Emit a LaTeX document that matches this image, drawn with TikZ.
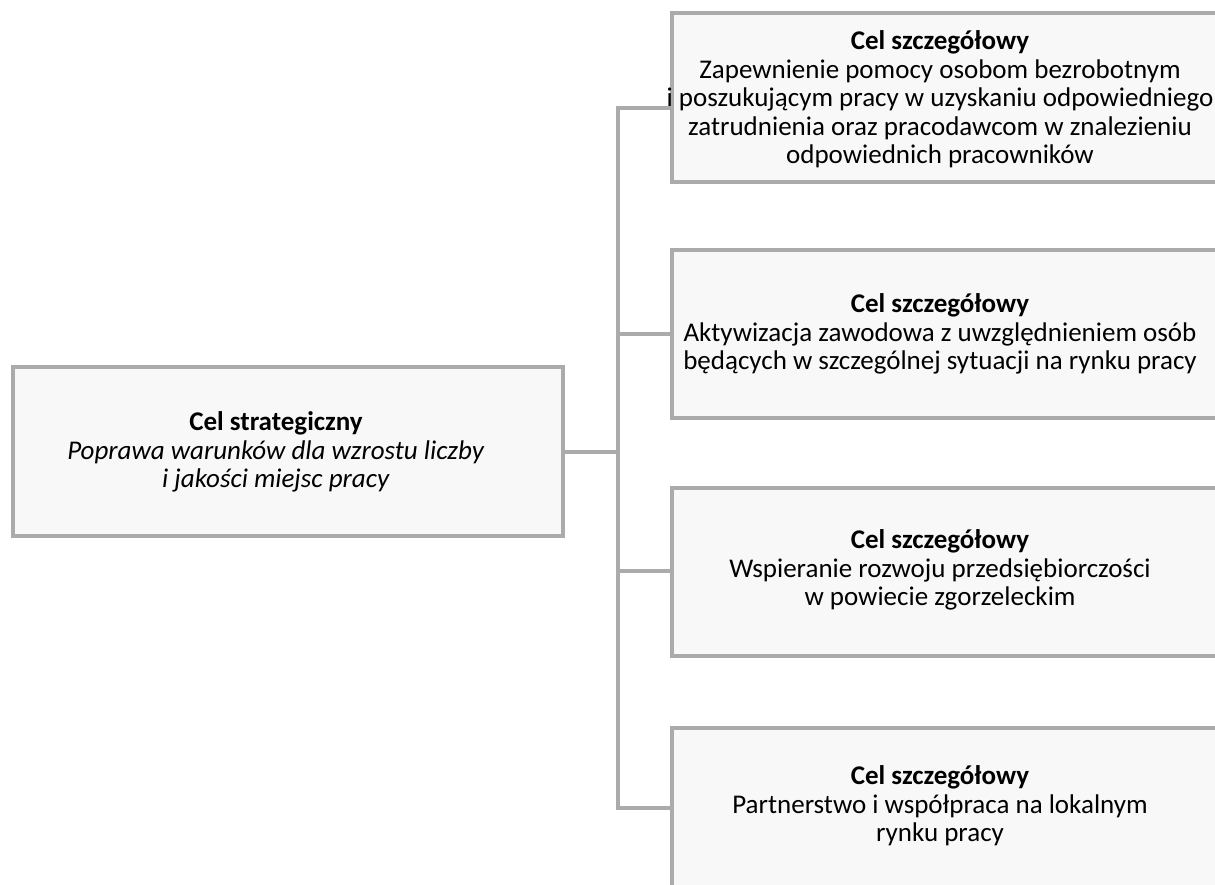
\documentclass[tikz,border=0pt]{standalone}
\usepackage{fontspec}
\setmainfont{Carlito}
\definecolor{boxline}{HTML}{ABABAB}
\definecolor{boxfill}{HTML}{F8F8F8}
\tikzset{
  goalbox/.style={draw=boxline, fill=boxfill, line width=4pt, rectangle, inner sep=0pt},
  goaltext/.style={align=center, inner sep=0pt, font=\fontsize{27}{28.5}\selectfont},
  link/.style={draw=boxline, line width=4pt},
}
\begin{document}
\begin{tikzpicture}[x=1pt, y=-1pt]
\useasboundingbox (0,0) rectangle (1215,884);
\begin{scope}
\clip (0,0) rectangle (1215,884);
% boxes
\node[goalbox, minimum width=550pt, minimum height=169pt] (main) at (288,451.5) {};
\node[goalbox, minimum width=580pt, minimum height=169pt] (b1) at (962,97.5) {};
\node[goalbox, minimum width=580pt, minimum height=168pt] (b2) at (962,334) {};
\node[goalbox, minimum width=580pt, minimum height=168pt] (b3) at (962,572) {};
\node[goalbox, minimum width=580pt, minimum height=170pt] (b4) at (962,813) {};
% texts
\node[goaltext] (tmain) at (276,452) {\textbf{Cel strategiczny}\\ \textit{Poprawa warunków dla wzrostu liczby}\\ \textit{i jakości miejsc pracy}};
\node[goaltext] (t1) at (940,99.5) {\textbf{Cel szczegółowy}\\ Zapewnienie pomocy osobom bezrobotnym\\ i poszukującym pracy w uzyskaniu odpowiedniego\\ zatrudnienia oraz pracodawcom w znalezieniu\\ odpowiednich pracowników};
\node[goaltext] (t2) at (940,334) {\textbf{Cel szczegółowy}\\ Aktywizacja zawodowa z uwzględnieniem osób\\ będących w szczególnej sytuacji na rynku pracy};
\node[goaltext] (t3) at (940,570) {\textbf{Cel szczegółowy}\\ Wspieranie rozwoju przedsiębiorczości\\ w powiecie zgorzeleckim};
\node[goaltext] (t4) at (940,806) {\textbf{Cel szczegółowy}\\ Partnerstwo i współpraca na lokalnym\\ rynku pracy};
% connectors
\coordinate (j0) at (618,452);
\coordinate (j1) at (618,108);
\coordinate (j2) at (618,334);
\coordinate (j3) at (618,571);
\coordinate (j4) at (618,808);
\draw[link] (main.east |- j0) -- (j0);
\draw[link, line join=miter] (j1 -| b1.west) -- (j1) -- (j4) -- (j4 -| b4.west);
\draw[link] (j2) -- (j2 -| b2.west);
\draw[link] (j3) -- (j3 -| b3.west);
\end{scope}
\end{tikzpicture}
\end{document}
